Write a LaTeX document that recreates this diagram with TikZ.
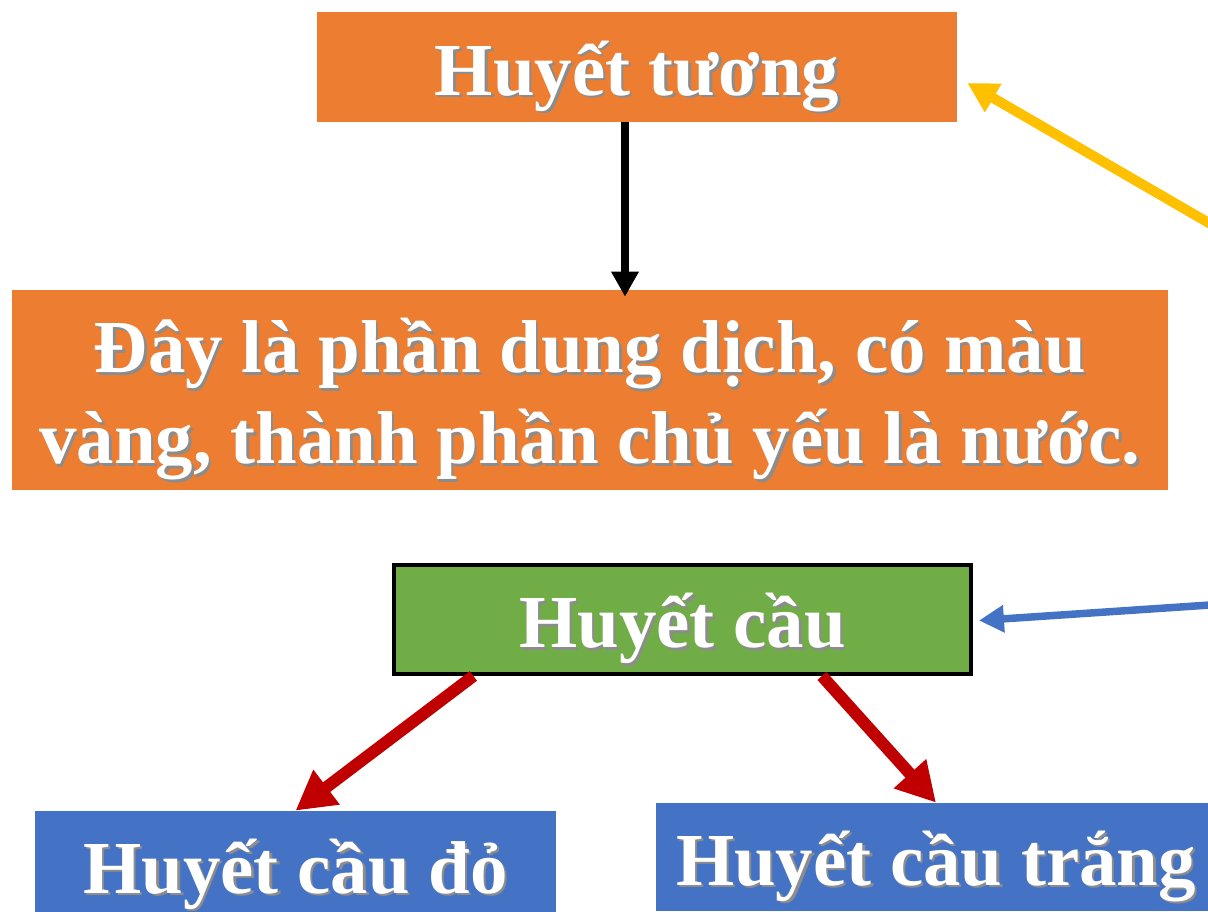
\documentclass[tikz,border=0pt]{standalone}
\usepackage{fontspec}
\setmainfont{Liberation Serif}
\usepackage{xcolor}
\usepackage{tikz}
\usetikzlibrary{arrows.meta,positioning,calc}
\definecolor{plasma}{HTML}{ED7D31}
\definecolor{cellgreen}{HTML}{70AD47}
\definecolor{cellblue}{HTML}{4472C4}
\definecolor{darkred}{HTML}{C00000}
\definecolor{gold}{HTML}{FFC000}
\newcommand{\shadowed}[1]{\leavevmode\raisebox{-0.21cm}[\height][\depth]{\rlap{\kern1.4pt\raisebox{-1.4pt}{\textcolor{black!45}{#1}}}#1}}

\begin{document}
\begin{tikzpicture}[x=0.02cm, y=-0.02cm,
    box/.style={rectangle, inner sep=0pt, text=white, font=\fontsize{42.6}{52}\selectfont\bfseries, align=center},
    arrow/.style={-{Triangle[length=0.5cm, width=0.52cm]}, line width=0.16cm, color=black},
    goldarrow/.style={-{Triangle[length=0.6cm, width=0.62cm]}, line width=0.2cm, color=gold},
    bluearrow/.style={-{Triangle[length=0.5cm, width=0.52cm]}, line width=0.15cm, color=cellblue},
    redarrow/.style={-{Triangle[length=0.78cm, width=0.82cm]}, line width=0.24cm, color=darkred}
]
    \useasboundingbox (0,0) rectangle (1208,912);
    \clip (0,0) rectangle (1208,912);

    % Plasma
    \node[box, fill=plasma, minimum width=12.8cm, minimum height=2.2cm] (tuong) at (637,67) {\shadowed{Huyết tương}};
    \node[box, fill=plasma, minimum width=23.12cm, minimum height=4cm] (mota) at (590,390)
        {\shadowed{Đây là phần dung dịch, có màu}\\\shadowed{vàng, thành phần chủ yếu là nước.}};

    % Blood cells
    \node[box, fill=cellgreen, draw=black, line width=0.08cm, minimum width=11.54cm, minimum height=2.18cm] (cau) at (682.5,619.5) {\shadowed{Huyết cầu}};
    \node[box, fill=cellblue, minimum width=10.42cm, minimum height=2.16cm] (cau-do) at (295.5,865) {\shadowed{Huyết cầu đỏ}};
    \node[box, fill=cellblue, minimum width=11.2cm, minimum height=2.16cm] (cau-trang) at (936,857) {\shadowed{Huyết cầu trắng}};

    % loose ends beyond the right edge
    \coordinate (gold-start) at (1240,241);
    \coordinate (blue-start) at (1240,603);

    \draw[arrow] ($(tuong.south)+(-12,0)$) -- ($(tuong.south |- mota.north)+(-12,7)$);
    \draw[goldarrow] (gold-start) -- ($(tuong.east)+(10,16)$);
    \draw[bluearrow] (blue-start) -- ($(cau.east)+(6,1)$);
    \draw[redarrow] ($(cau.south west)!0.14!(cau.south east)$) -- (cau-do.north);
    \draw[redarrow] ($(cau.south west)!0.74!(cau.south east)$) -- (cau-trang.north);
\end{tikzpicture}
\end{document}
